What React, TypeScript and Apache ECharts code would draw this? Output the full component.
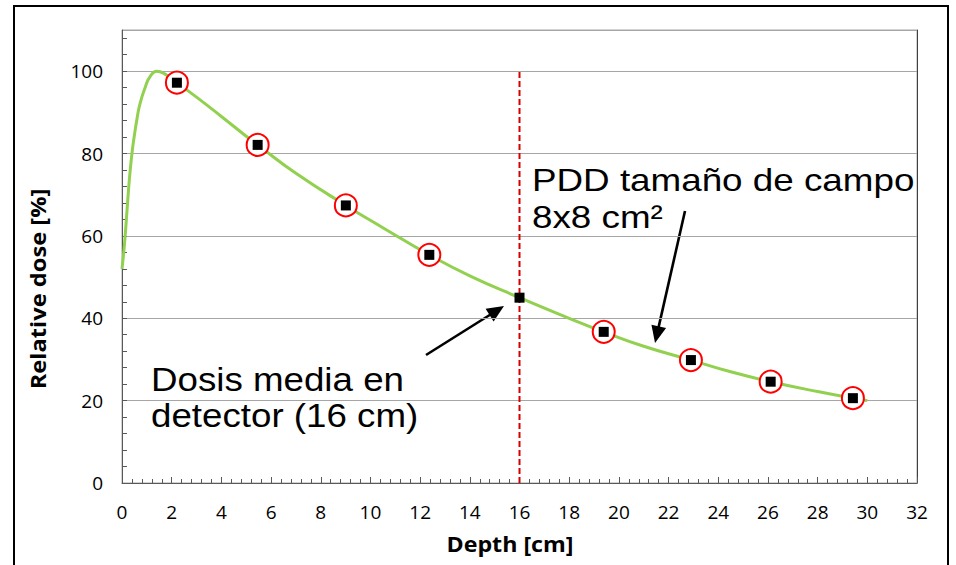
import React, { useEffect, useRef } from "react";
import * as echarts from "echarts";

// Depth-dose curve (PDD, 8x8 cm² field)
const curveDepth = [0, 0.1, 0.2, 0.3, 0.4, 0.5, 0.6, 0.72, 0.93, 1.13, 1.4, 1.7, 2.21, 3, 4, 5, 5.46, 7, 9.01, 10.5, 12.37, 14, 16, 18, 19.39, 21, 22.9, 24.5, 26.11, 28, 29.42, 30];
const curveDose = [52, 58, 66, 74, 80, 84.5, 88.3, 92, 96, 98.7, 100, 99.4, 97.2, 93.7, 89, 84.2, 82.1, 75.2, 67.4, 62, 55.4, 50.3, 45, 40, 36.7, 33.2, 29.85, 27, 24.6, 22.2, 20.6, 20];

// Measured points (black squares); circled ones carry a red ring
const pointDepth = [2.21, 5.46, 9.01, 12.37, 16.0, 19.39, 22.9, 26.11, 29.42];
const pointDose = [97.2, 82.1, 67.4, 55.4, 45.0, 36.7, 29.85, 24.6, 20.6];
const pointCircled = [true, true, true, true, false, true, true, true, true];

// Detector depth marker
const detectorDepth = 16;
const detectorTop = 100;

// Axis ticks
const xTickLabels = [0, 2, 4, 6, 8, 10, 12, 14, 16, 18, 20, 22, 24, 26, 28, 30, 32];
const yTickLabels = [0, 20, 40, 60, 80, 100];
const yTickMarks = [0, 4, 8, 12, 16, 20, 24, 28, 32, 36, 40, 44, 48, 52, 56, 60, 64, 68, 72, 76, 80, 84, 88, 92, 96, 100, 104, 108];

const AXIS_FONT = "'Open Sans', 'Noto Sans', sans-serif";
const NOTE_FONT = "'Liberation Sans', Arial, sans-serif";

function arrow(x1: number, y1: number, x2: number, y2: number) {
  const dx = x2 - x1;
  const dy = y2 - y1;
  const len = Math.hypot(dx, dy);
  const ux = dx / len;
  const uy = dy / len;
  const headLen = 17;
  const headHalf = 7.5;
  const bx = x2 - ux * headLen;
  const by = y2 - uy * headLen;
  return {
    type: "group",
    silent: true,
    children: [
      {
        type: "line",
        shape: { x1, y1, x2: bx + ux * 2, y2: by + uy * 2 },
        style: { stroke: "#000", lineWidth: 2.6 },
      },
      {
        type: "polygon",
        shape: {
          points: [
            [x2, y2],
            [bx - uy * headHalf, by + ux * headHalf],
            [bx + uy * headHalf, by - ux * headHalf],
          ],
        },
        style: { fill: "#000" },
      },
    ],
  };
}

export default function App() {
  const ref = useRef<HTMLDivElement>(null);

  useEffect(() => {
    if (!ref.current) return;
    const chart = echarts.init(ref.current, undefined, { renderer: "svg" });

    const curve = curveDepth.map((d, i) => [d, curveDose[i]]);
    const points = pointDepth.map((d, i) => [d, pointDose[i]]);
    const rings = points.filter((_, i) => pointCircled[i]);

    chart.setOption({
      animation: false,
      backgroundColor: "#fff",
      grid: {
        left: 122,
        top: 30,
        right: 39,
        bottom: 82,
        show: true,
        borderColor: "#a6a6a6",
        borderWidth: 1,
      },
      xAxis: {
        type: "value",
        min: 0,
        max: 32,
        interval: 2,
        axisLine: { show: true, lineStyle: { color: "#595959", width: 1 } },
        axisTick: { show: true, inside: true, length: 6, lineStyle: { color: "#595959" } },
        minorTick: { show: true, splitNumber: 5, length: 4, lineStyle: { color: "#595959" } },
        splitLine: { show: false },
        axisLabel: {
          customValues: xTickLabels,
          margin: 19,
          fontSize: 19,
          fontFamily: AXIS_FONT,
          color: "#000",
        },
      },
      yAxis: [
        {
          // labels and gridlines
          type: "value",
          min: 0,
          max: 110,
          interval: 20,
          axisLine: { show: true, lineStyle: { color: "#595959", width: 1 } },
          axisTick: { show: false },
          splitLine: { show: true, lineStyle: { color: "#a6a6a6", width: 1 } },
          axisLabel: {
            customValues: yTickLabels,
            margin: 19,
            fontSize: 19,
            fontFamily: AXIS_FONT,
            color: "#000",
          },
        },
        {
          // right frame line
          type: "value",
          position: "right",
          min: 0,
          max: 110,
          interval: 20,
          axisLine: { show: true, lineStyle: { color: "#404040", width: 1 } },
          axisTick: { show: false },
          axisLabel: { show: false },
          splitLine: { show: false },
        },
        {
          // inner tick marks every 4 %
          type: "value",
          position: "left",
          offset: 0,
          min: 0,
          max: 110,
          interval: 4,
          axisLine: { show: false },
          axisTick: {
            show: true,
            inside: true,
            length: 5,
            customValues: yTickMarks,
            lineStyle: { color: "#595959" },
          },
          axisLabel: { show: false },
          splitLine: { show: false },
        },
      ],
      series: [
        {
          name: "PDD",
          type: "line",
          data: curve,
          showSymbol: false,
          smooth: 0.5,
          lineStyle: { color: "#92d050", width: 3 },
          z: 2,
          silent: true,
        },
        {
          name: "detector",
          type: "line",
          data: [
            [detectorDepth, 0],
            [detectorDepth, detectorTop],
          ],
          showSymbol: false,
          lineStyle: { color: "#d40000", width: 2, type: [6, 3] },
          z: 3,
          silent: true,
        },
        {
          name: "rings",
          type: "scatter",
          data: rings,
          symbol: "circle",
          symbolSize: 22,
          itemStyle: { color: "#fff", borderColor: "#ff0000", borderWidth: 2, opacity: 1 },
          z: 4,
          silent: true,
        },
        {
          name: "points",
          type: "scatter",
          data: points,
          symbol: "rect",
          symbolSize: 10,
          itemStyle: { color: "#000", opacity: 1 },
          z: 5,
          silent: true,
        },
      ],
      graphic: [
        {
          type: "rect",
          silent: true,
          shape: { x: 14, y: 6, width: 934, height: 620 },
          style: { fill: "none", stroke: "#000", lineWidth: 2 },
          z: 100,
        },
        {
          type: "text",
          silent: true,
          x: 38,
          y: 289,
          rotation: Math.PI / 2,
          scaleX: 1.1,
          style: {
            text: "Relative dose [%]",
            font: `bold 21.5px ${AXIS_FONT}`,
            fill: "#000",
            align: "center",
            verticalAlign: "middle",
          },
        },
        {
          type: "text",
          silent: true,
          x: 510,
          y: 544,
          scaleX: 1.08,
          style: {
            text: "Depth [cm]",
            font: `bold 21.5px ${AXIS_FONT}`,
            fill: "#000",
            align: "center",
            verticalAlign: "middle",
          },
        },
        {
          type: "text",
          silent: true,
          x: 532,
          y: 180,
          scaleX: 1.15,
          style: {
            text: "PDD tamaño de campo",
            font: `32px ${NOTE_FONT}`,
            fill: "#000",
            align: "left",
            verticalAlign: "middle",
          },
        },
        {
          type: "text",
          silent: true,
          x: 532,
          y: 217,
          scaleX: 1.15,
          style: {
            text: "8x8 cm²",
            font: `32px ${NOTE_FONT}`,
            fill: "#000",
            align: "left",
            verticalAlign: "middle",
          },
        },
        {
          type: "text",
          silent: true,
          x: 151,
          y: 380,
          scaleX: 1.13,
          style: {
            text: "Dosis media en",
            font: `32.5px ${NOTE_FONT}`,
            fill: "#000",
            align: "left",
            verticalAlign: "middle",
          },
        },
        {
          type: "text",
          silent: true,
          x: 151,
          y: 416,
          scaleX: 1.13,
          style: {
            text: "detector (16 cm)",
            font: `32.5px ${NOTE_FONT}`,
            fill: "#000",
            align: "left",
            verticalAlign: "middle",
          },
        },
        arrow(426, 355, 504, 306),
        arrow(685, 211, 655, 343),
      ],
    });

    return () => chart.dispose();
  }, []);

  return (
    <div
      ref={ref}
      style={{ position: "absolute", left: 0, top: 0, width: 956, height: 565, background: "#fff" }}
    />
  );
}
